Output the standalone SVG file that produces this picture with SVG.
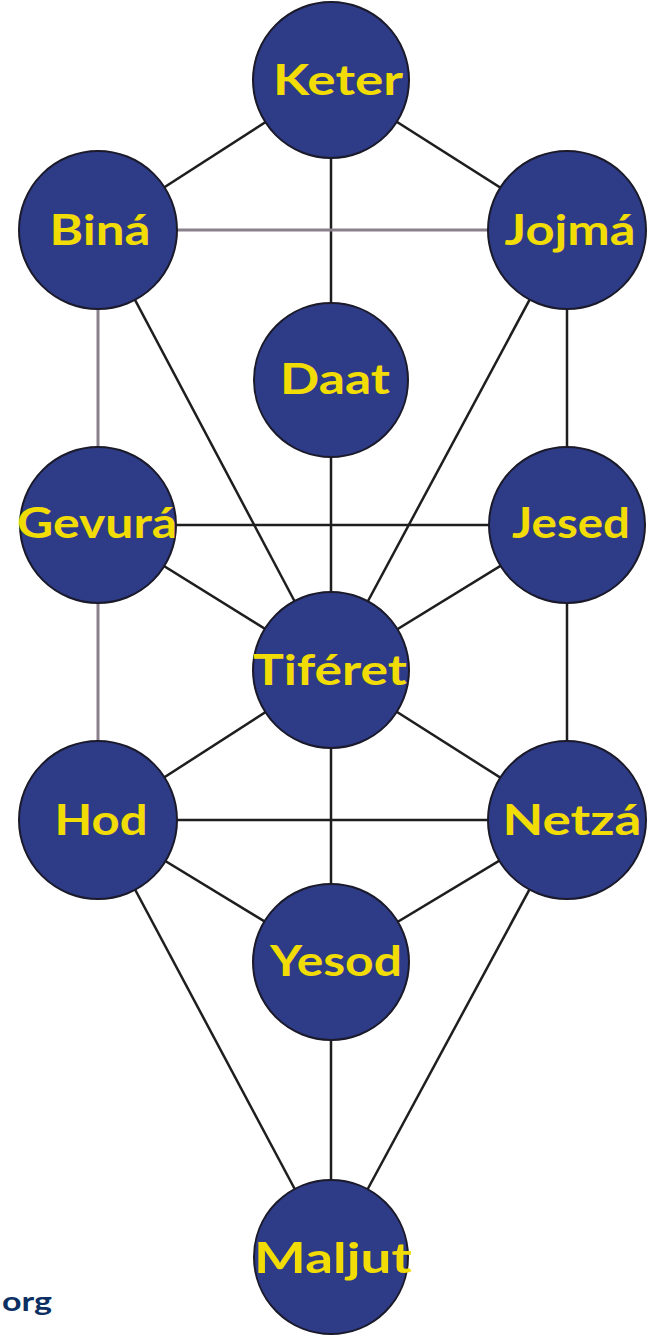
<svg xmlns="http://www.w3.org/2000/svg" width="654" height="1336" viewBox="0 0 654 1336">
<style>
.edge{stroke:#1e1e1e;stroke-width:2.5;fill:none}
.grey{stroke:#8a7f8c;stroke-width:3;fill:none}
.node circle{fill:#2e3b86;stroke:#1a1a2a;stroke-width:2}
.node text{fill:#f2dc06;font-family:Lato,"Open Sans",sans-serif;font-weight:bold;font-size:42px;text-anchor:middle}
.org{fill:#0b2f62;font-family:Lato,"Open Sans",sans-serif;font-weight:bold;font-size:26px}
</style>
<rect width="654" height="1336" fill="#ffffff"/>
<g id="connectors">
<line class="edge" x1="331" y1="80" x2="331" y2="1257"/>
<line class="edge" x1="331" y1="80" x2="98" y2="230"/>
<line class="edge" x1="331" y1="80" x2="567" y2="230"/>
<line class="grey" x1="98" y1="230" x2="567" y2="230"/>
<line class="grey" x1="98" y1="230" x2="98" y2="820"/>
<line class="edge" x1="567" y1="230" x2="567" y2="820"/>
<line class="edge" x1="98" y1="230" x2="331" y2="670"/>
<line class="edge" x1="567" y1="230" x2="331" y2="670"/>
<line class="edge" x1="98" y1="525" x2="567" y2="525"/>
<line class="edge" x1="98" y1="525" x2="331" y2="670"/>
<line class="edge" x1="567" y1="525" x2="331" y2="670"/>
<line class="edge" x1="331" y1="670" x2="98" y2="820"/>
<line class="edge" x1="331" y1="670" x2="567" y2="820"/>
<line class="edge" x1="98" y1="820" x2="567" y2="820"/>
<line class="edge" x1="98" y1="820" x2="331" y2="962"/>
<line class="edge" x1="567" y1="820" x2="331" y2="962"/>
<line class="edge" x1="98" y1="820" x2="331" y2="1257"/>
<line class="edge" x1="567" y1="820" x2="331" y2="1257"/>
</g>
<g id="keter" class="node"><circle cx="331" cy="80" r="78"/><text x="338" y="95" textLength="130" lengthAdjust="spacingAndGlyphs">Keter</text></g>
<g id="bina" class="node"><circle cx="98" cy="230" r="79"/><text x="100" y="245" textLength="101" lengthAdjust="spacingAndGlyphs">Biná</text></g>
<g id="jojma" class="node"><circle cx="567" cy="230" r="79"/><text x="570" y="245" textLength="131" lengthAdjust="spacingAndGlyphs">Jojmá</text></g>
<g id="daat" class="node"><circle cx="331" cy="380" r="77"/><text x="335" y="394" textLength="110" lengthAdjust="spacingAndGlyphs">Daat</text></g>
<g id="gevura" class="node"><circle cx="98" cy="525" r="78"/><text x="97" y="538" textLength="160" lengthAdjust="spacingAndGlyphs">Gevurá</text></g>
<g id="jesed" class="node"><circle cx="567" cy="525" r="78"/><text x="571" y="538" textLength="118" lengthAdjust="spacingAndGlyphs">Jesed</text></g>
<g id="tiferet" class="node"><circle cx="331" cy="670" r="78"/><text x="330" y="685" textLength="154" lengthAdjust="spacingAndGlyphs">Tiféret</text></g>
<g id="hod" class="node"><circle cx="98" cy="820" r="79"/><text x="101" y="835" textLength="93" lengthAdjust="spacingAndGlyphs">Hod</text></g>
<g id="netza" class="node"><circle cx="567" cy="820" r="79"/><text x="572" y="835" textLength="139" lengthAdjust="spacingAndGlyphs">Netzá</text></g>
<g id="yesod" class="node"><circle cx="331" cy="962" r="78"/><text x="336" y="976" textLength="132" lengthAdjust="spacingAndGlyphs">Yesod</text></g>
<g id="maljut" class="node"><circle cx="331" cy="1257" r="77"/><text x="333" y="1273" textLength="158" lengthAdjust="spacingAndGlyphs">Maljut</text></g>
<text class="org" x="2" y="1311" textLength="50" lengthAdjust="spacingAndGlyphs">org</text>
</svg>
